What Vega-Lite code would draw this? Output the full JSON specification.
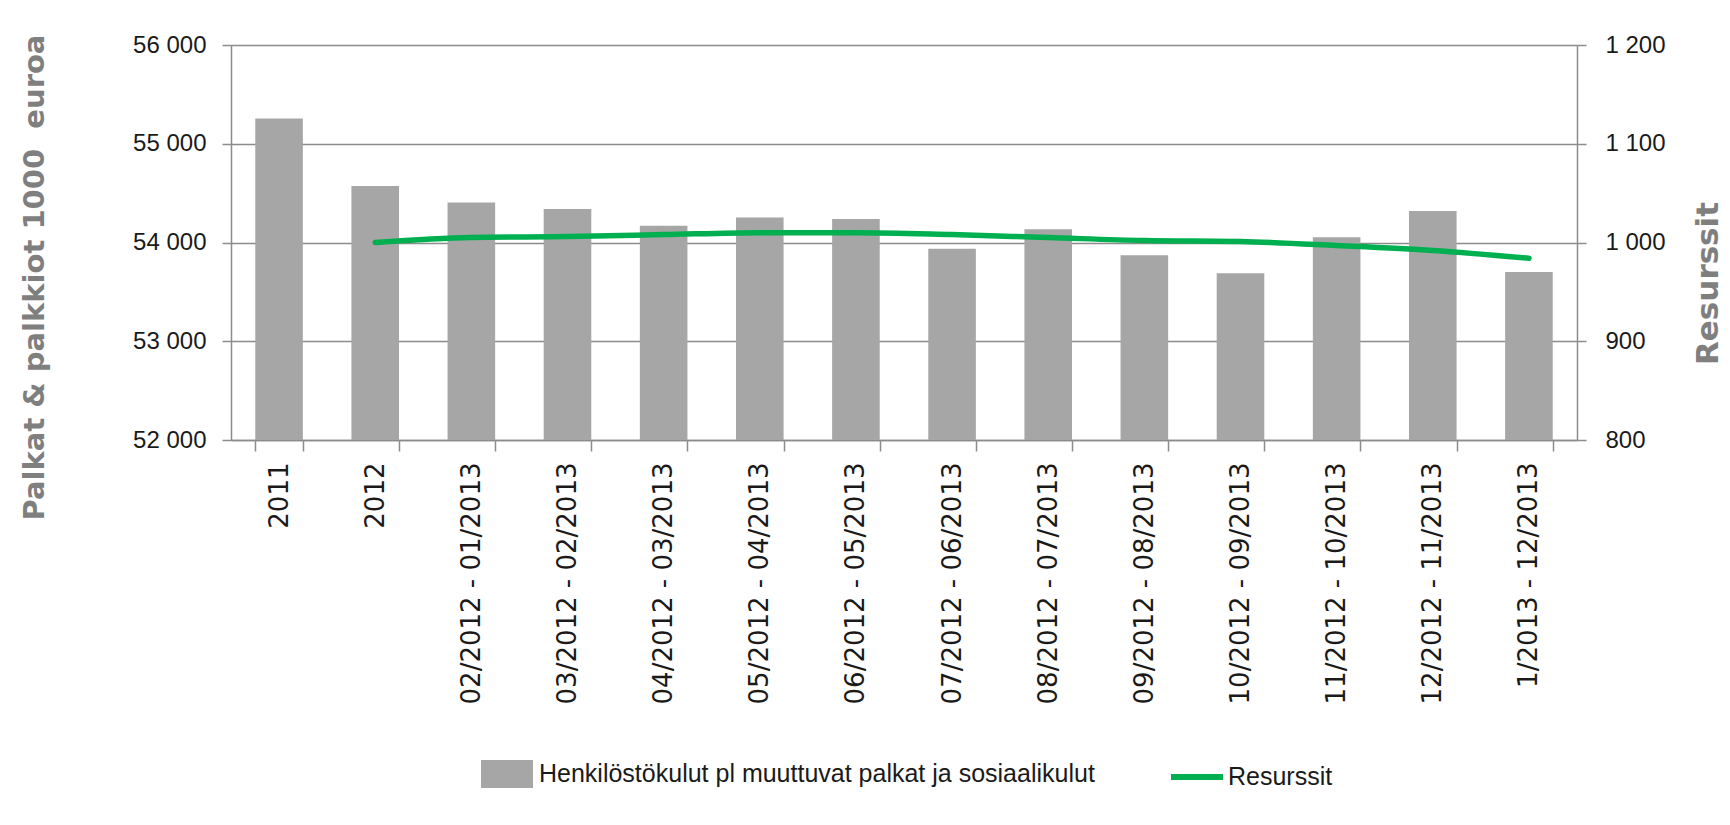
{
  "$schema": "https://vega.github.io/schema/vega-lite/v6.json",
  "width": 1346,
  "height": 395,
  "autosize": {"type": "none"},
  "padding": {"left": 231, "top": 45, "right": 153, "bottom": 385},
  "background": "white",
  "config": {
    "locale": {"number": {"decimal": ",", "thousands": " ", "grouping": [3], "currency": ["", " €"]}},
    "view": {"stroke": null},
    "axis": {
      "domainColor": "#8C8C8C",
      "tickColor": "#8C8C8C",
      "gridColor": "#8C8C8C",
      "domainWidth": 1.5,
      "tickWidth": 1.5,
      "gridWidth": 1.5,
      "labelColor": "#1A1A1A",
      "titleColor": "#7F7F7F"
    }
  },
  "data": {
    "values": [
      {"kausi": "2011", "palkat": 55256, "resurssit": null},
      {"kausi": "2012", "palkat": 54572, "resurssit": 1000},
      {"kausi": "02/2012 - 01/2013", "palkat": 54406, "resurssit": 1005},
      {"kausi": "03/2012 - 02/2013", "palkat": 54338, "resurssit": 1006},
      {"kausi": "04/2012 - 03/2013", "palkat": 54170, "resurssit": 1008},
      {"kausi": "05/2012 - 04/2013", "palkat": 54254, "resurssit": 1010},
      {"kausi": "06/2012 - 05/2013", "palkat": 54237, "resurssit": 1010},
      {"kausi": "07/2012 - 06/2013", "palkat": 53936, "resurssit": 1008},
      {"kausi": "08/2012 - 07/2013", "palkat": 54135, "resurssit": 1005},
      {"kausi": "09/2012 - 08/2013", "palkat": 53871, "resurssit": 1002},
      {"kausi": "10/2012 - 09/2013", "palkat": 53689, "resurssit": 1001},
      {"kausi": "11/2012 - 10/2013", "palkat": 54054, "resurssit": 997},
      {"kausi": "12/2012 - 11/2013", "palkat": 54318, "resurssit": 992},
      {"kausi": "1/2013 - 12/2013", "palkat": 53702, "resurssit": 984}
    ]
  },
  "encoding": {
    "x": {
      "field": "kausi",
      "type": "nominal",
      "sort": null,
      "scale": {"paddingInner": 0.505, "paddingOuter": 0.2525},
      "axis": {
        "title": null,
        "labelAngle": -90,
        "labelFont": "DejaVu Sans",
        "labelFontSize": 26,
        "labelPadding": 11,
        "tickSize": 11,
        "tickBand": "extent",
        "labelLimit": 0,
        "grid": false
      }
    }
  },
  "layer": [
    {
      "mark": {"type": "bar", "color": "#A6A6A6"},
      "encoding": {
        "y": {
          "field": "palkat",
          "type": "quantitative",
          "scale": {"domain": [52000, 56000], "zero": false, "nice": false},
          "axis": {
            "values": [52000, 53000, 54000, 55000, 56000],
            "format": ",d",
            "labelFont": "Liberation Sans",
            "labelFontSize": 24,
            "labelPadding": 16,
            "tickSize": 9,
            "grid": true,
            "title": "Palkat & palkkiot 1000 \u00a0euroa",
            "titleFont": "DejaVu Sans",
            "titleFontSize": 29,
            "titleFontWeight": "bold",
            "titleAngle": -90,
            "titleX": -197,
            "titleY": 232,
            "titleAlign": "center",
            "titleBaseline": "middle"
          }
        },
        "y2": {"datum": 52000},
        "fill": {
          "datum": "Henkilöstökulut pl muuttuvat palkat ja sosiaalikulut",
          "scale": {"range": ["#A6A6A6"]},
          "legend": {
            "orient": "none",
            "legendX": 250,
            "legendY": 703,
            "title": null,
            "padding": 0,
            "symbolType": "M-1,-0.54L1,-0.54L1,0.54L-1,0.54Z",
            "symbolSize": 2704,
            "symbolStrokeWidth": 0,
            "labelFont": "Liberation Sans",
            "labelFontSize": 25,
            "labelColor": "#1A1A1A",
            "labelOffset": 6,
            "labelLimit": 0
          }
        }
      }
    },
    {
      "transform": [{"filter": "datum.resurssit != null"}],
      "mark": {"type": "line", "interpolate": "monotone", "strokeWidth": 5.5, "strokeCap": "round"},
      "encoding": {
        "y": {
          "field": "resurssit",
          "type": "quantitative",
          "scale": {"domain": [800, 1200], "zero": false, "nice": false},
          "axis": {
            "orient": "right",
            "values": [800, 900, 1000, 1100, 1200],
            "format": ",d",
            "labelFont": "Liberation Sans",
            "labelFontSize": 24,
            "labelPadding": 19,
            "tickSize": 9,
            "grid": false,
            "title": "Resurssit",
            "titleFont": "DejaVu Sans",
            "titleFontSize": 31,
            "titleFontWeight": "bold",
            "titleAngle": -90,
            "titleX": 131,
            "titleY": 238,
            "titleAlign": "center",
            "titleBaseline": "middle"
          }
        },
        "stroke": {
          "datum": "Resurssit",
          "scale": {"range": ["#00B050"]},
          "legend": {
            "orient": "none",
            "legendX": 937,
            "legendY": 703,
            "title": null,
            "padding": 0,
            "symbolType": "stroke",
            "symbolSize": 2704,
            "symbolStrokeWidth": 6,
            "labelFont": "Liberation Sans",
            "labelFontSize": 25,
            "labelColor": "#1A1A1A",
            "labelOffset": 2,
            "labelLimit": 0
          }
        }
      }
    }
  ],
  "resolve": {"scale": {"y": "independent"}}
}
